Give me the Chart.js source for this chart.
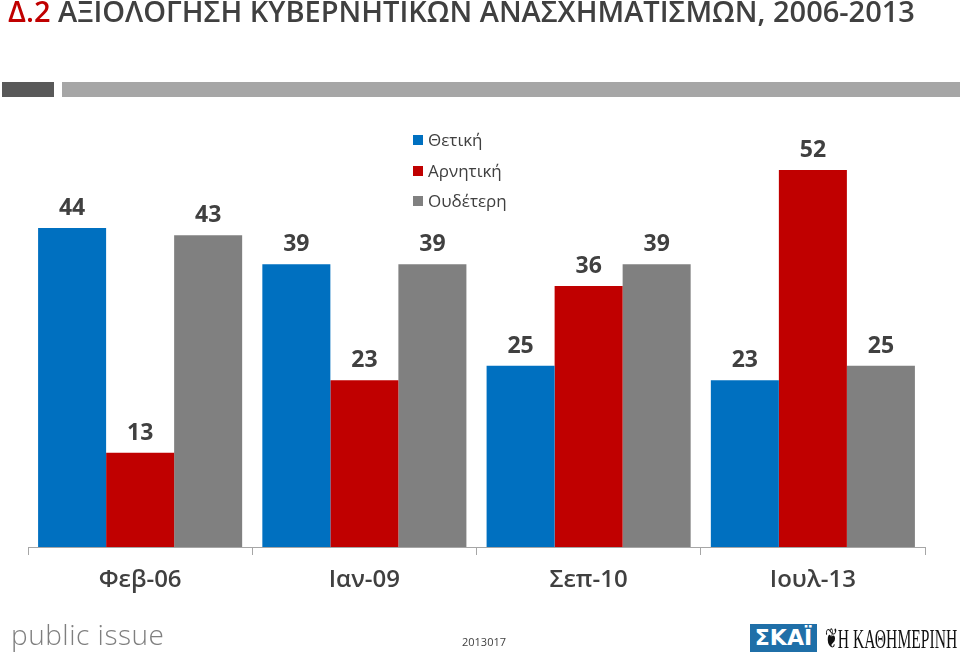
<!DOCTYPE html>
<html>
<head>
<meta charset="utf-8">
<script src="https://cdn.jsdelivr.net/npm/chart.js@4.4.1/dist/chart.umd.min.js"></script>
<style>
  html, body { margin: 0; padding: 0; background: #fff; }
  #wrap { position: relative; width: 960px; height: 654px; overflow: hidden; font-family: "Open Sans", sans-serif; }
  #chart { position: absolute; left: 0; top: 0; }
  #title { position: absolute; left: 8px; top: -9px; font-size: 29px; font-weight: 600; color: #404040; white-space: nowrap; transform-origin: 0 0; }
  #title .num { color: #c00000; }
  .bar { position: absolute; top: 82px; height: 15px; }
  #legend { position: absolute; left: 413px; top: 128px; font-size: 17px; color: #404040; }
  #legend div { height: 30.5px; line-height: 24px; }
  #legend span.sw { display: inline-block; width: 10px; height: 10px; margin-right: 5px; vertical-align: 1px; }
  #pi { position: absolute; left: 11px; top: 615px; font-size: 28px; color: #7f7f7f; font-weight: 300; letter-spacing: 0.5px; }
  #code { position: absolute; left: 462px; top: 634px; font-size: 11px; color: #404040; }
  #skai { position: absolute; left: 750px; top: 624px; width: 67px; height: 28px; background: #1f6fa8; color: #fff; font-weight: 700; font-size: 22px; line-height: 28px; text-align: center; font-family: "DejaVu Sans", sans-serif; }
  #kath { position: absolute; left: 825px; top: 622px; font-family: "Liberation Serif", serif; font-size: 28px; color: #111; white-space: nowrap; transform-origin: 0 0; }
</style>
</head>
<body>
<div id="wrap">
  <canvas id="chart" width="960" height="654"></canvas>
  <div id="title"><span class="num">Δ.2</span> ΑΞΙΟΛΟΓΗΣΗ ΚΥΒΕΡΝΗΤΙΚΩΝ ΑΝΑΣΧΗΜΑΤΙΣΜΩΝ, 2006-2013</div>
  <div class="bar" style="left:2px;width:52px;background:#595959"></div>
  <div class="bar" style="left:62px;width:898px;background:#a6a6a6"></div>
  <div id="legend"></div>
  <div id="pi">public issue</div>
  <div id="code">2013017</div>
  <div id="skai">ΣΚΑΪ</div>
  <div id="kath">❦Η ΚΑΘΗΜΕΡΙΝΗ</div>
</div>
<script>
const categories = ['Φεβ-06', 'Ιαν-09', 'Σεπ-10', 'Ιουλ-13'];
const seriesNames = ['Θετική', 'Αρνητική', 'Ουδέτερη'];
const positive = [44, 39, 25, 23];
const negative = [13, 23, 36, 52];
const neutral = [43, 39, 39, 25];
const colors = ['#0070c0', '#c00000', '#808080'];

const allSeries = [positive, negative, neutral];

// fit the title and newspaper name to the widths seen in the original
function fitWidth(id, w) {
  const el = document.getElementById(id);
  el.style.transform = 'scaleX(' + (w / el.scrollWidth) + ')';
}
fitWidth('title', 907);
fitWidth('kath', 132);

// Legend, stacked vertically like the original
const legendEl = document.getElementById('legend');
seriesNames.forEach((name, i) => {
  const row = document.createElement('div');
  row.innerHTML = '<span class="sw" style="background:' + colors[i] + '"></span>' + name;
  legendEl.appendChild(row);
});

// Value labels above each bar
const valueLabels = {
  id: 'valueLabels',
  afterDatasetsDraw(chart) {
    const ctx = chart.ctx;
    ctx.save();
    ctx.font = 'bold 23px "Open Sans", sans-serif';
    ctx.fillStyle = '#404040';
    ctx.textAlign = 'center';
    ctx.textBaseline = 'alphabetic';
    chart.data.datasets.forEach((ds, di) => {
      chart.getDatasetMeta(di).data.forEach((bar, i) => {
        ctx.fillText(ds.data[i], bar.x, bar.y - 13);
      });
    });
    ctx.restore();
  }
};

const ctx = document.getElementById('chart').getContext('2d');
new Chart(ctx, {
  type: 'bar',
  data: {
    labels: categories,
    datasets: allSeries.map((data, i) => ({
      label: seriesNames[i],
      data: data,
      backgroundColor: colors[i],
      barPercentage: 1,
      categoryPercentage: 0.91
    }))
  },
  options: {
    responsive: false,
    animation: false,
    layout: { padding: { left: 28, right: 35, top: 112, bottom: 0 } },
    plugins: {
      legend: { display: false },
      tooltip: { enabled: false }
    },
    scales: {
      x: {
        afterFit(scale) { scale.height = 107; },
        grid: {
          offset: true,
          drawOnChartArea: false,
          drawTicks: true,
          tickLength: 8,
          color: '#a6a6a6'
        },
        border: { color: '#a6a6a6', width: 1 },
        ticks: {
          color: '#404040',
          padding: 11,
          font: { family: '"Open Sans", sans-serif', size: 24, weight: '600' }
        }
      },
      y: {
        display: false,
        min: 0,
        max: 60
      }
    }
  },
  plugins: [valueLabels]
});
</script>
</body>
</html>
